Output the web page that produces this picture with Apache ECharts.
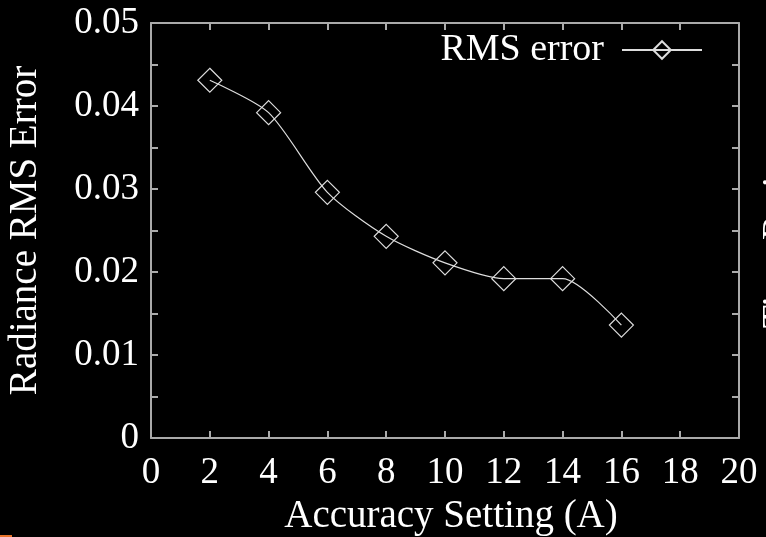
<!DOCTYPE html>
<html>
<head>
<meta charset="utf-8">
<script src="https://cdn.jsdelivr.net/npm/echarts@6/dist/echarts.min.js"></script>
<style>
html,body{margin:0;padding:0;background:#000;}
#chart{width:766px;height:537px;}
</style>
</head>
<body>
<div id="chart"></div>
<script>
const xValues = [2, 4, 6, 8, 10, 12, 14, 16];
const rmsError = [0.0431, 0.0392, 0.0296, 0.0243, 0.0211, 0.0192, 0.0192, 0.0136];
const seriesName = 'RMS error';
const xTitle = 'Accuracy Setting (A)';
const yTitle = 'Radiance RMS Error';
const yTickLabels = ['0', '0.01', '0.02', '0.03', '0.04', '0.05'];

const FONT = '"Liberation Serif", "DejaVu Serif", serif';
const AXC = '#aaa';
const tick = {show: true, inside: true, length: 7, lineStyle: {color: AXC, width: 2}};
const chart = echarts.init(document.getElementById('chart'));
chart.setOption({
  backgroundColor: '#000',
  animation: false,
  grid: {left: 151, right: 27, top: 23, bottom: 99, show: false, containLabel: false, outerBoundsMode: 'none'},
  legend: {
    data: [seriesName],
    right: 63, top: 31, padding: 0,
    align: 'right',
    itemWidth: 80, itemHeight: 22,
    textStyle: {color: '#fff', fontFamily: FONT, fontSize: 38, padding: [0, 13, 0, 0]},
    inactiveColor: '#fff'
  },
  xAxis: [{
    type: 'value', min: 0, max: 20, interval: 2,
    name: xTitle, nameLocation: 'middle', nameGap: 58,
    nameTextStyle: {color: '#fff', fontFamily: FONT, fontSize: 39, padding: [0, 0, 0, 12]},
    axisLine: {show: true, onZero: false, lineStyle: {color: AXC, width: 2}},
    axisTick: tick,
    axisLabel: {color: '#fff', fontFamily: FONT, fontSize: 37, margin: 17},
    splitLine: {show: false}
  }, {
    type: 'value', min: 0, max: 20, interval: 2, position: 'top',
    axisLine: {show: true, onZero: false, lineStyle: {color: AXC, width: 2}},
    axisTick: tick,
    axisLabel: {show: false},
    splitLine: {show: false}
  }],
  yAxis: [{
    type: 'value', min: 0, max: 0.05, interval: 0.01,
    name: yTitle, nameLocation: 'middle', nameGap: 106,
    nameTextStyle: {color: '#fff', fontFamily: FONT, fontSize: 39},
    axisLine: {show: true, onZero: false, lineStyle: {color: AXC, width: 2}},
    axisTick: tick,
    minorTick: {show: true, splitNumber: 2, length: 7, lineStyle: {color: AXC, width: 2}},
    axisLabel: {color: '#fff', fontFamily: FONT, fontSize: 37, margin: 12,
      formatter: function (v) { return yTickLabels[Math.round(v * 100)]; }},
    splitLine: {show: false}
  }, {
    type: 'value', min: 0, max: 0.05, interval: 0.01, position: 'right',
    axisLine: {show: true, onZero: false, lineStyle: {color: AXC, width: 2}},
    axisTick: tick,
    minorTick: {show: true, splitNumber: 2, length: 7, lineStyle: {color: AXC, width: 2}},
    axisLabel: {show: false},
    splitLine: {show: false}
  }],
  graphic: [
    {type: 'rect', shape: {x: 0, y: 535, width: 12, height: 2}, style: {fill: '#e8732a'}},
    {type: 'text', x: 778, y: 243, rotation: Math.PI / 2, style: {text: 'Time Ratio', fill: '#fff', font: '38px ' + FONT, textAlign: 'center', textVerticalAlign: 'middle'}}
  ],
  series: [{
    name: seriesName,
    type: 'line',
    xAxisIndex: 0, yAxisIndex: 0,
    data: xValues.map((x, i) => [x, rmsError[i]]),
    smooth: 0.25,
    symbol: 'diamond',
    symbolSize: 24,
    showSymbol: true,
    lineStyle: {color: '#ddd', width: 1.2},
    itemStyle: {color: 'rgba(0,0,0,0)', borderColor: '#ddd', borderWidth: 1.2}
  }]
});
</script>
</body>
</html>
